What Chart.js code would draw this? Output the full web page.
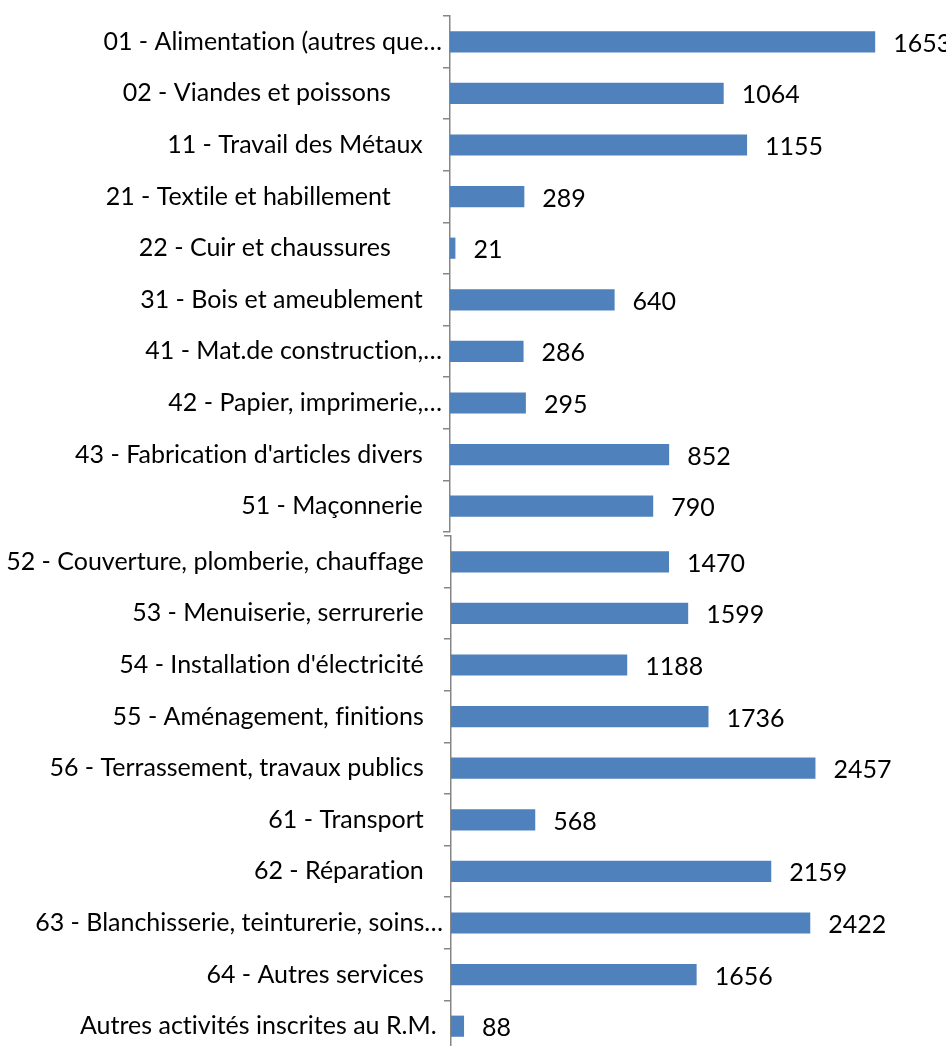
<!DOCTYPE html>
<html>
<head>
<meta charset="utf-8">
<script src="https://cdn.jsdelivr.net/npm/chart.js@4"></script>
<style>
  html, body { margin: 0; padding: 0; background: #fff; width: 946px; height: 1046px; overflow: hidden; }
  #wrap { position: relative; width: 946px; height: 1046px; overflow: hidden; }
  canvas { position: absolute; left: 0; }
  #c1 { top: 0; }
  #c2 { top: 520px; }
</style>
</head>
<body>
<div id="wrap">
  <canvas id="c1" width="946" height="548"></canvas>
  <canvas id="c2" width="946" height="548"></canvas>
</div>
<script>
const SP = "\u00a0";
const topCategories = [
  "01 - Alimentation (autres que…",
  "02 - Viandes et poissons" + SP.repeat(8),
  "11 - Travail des Métaux" + SP.repeat(3),
  "21 - Textile et habillement" + SP.repeat(8),
  "22 - Cuir et chaussures" + SP.repeat(8),
  "31 - Bois et ameublement" + SP.repeat(3),
  "41 - Mat.de construction,…",
  "42 - Papier, imprimerie,…",
  "43 - Fabrication d'articles divers" + SP.repeat(3),
  "51 - Maçonnerie" + SP.repeat(3)
];
const topValues = [1653, 1064, 1155, 289, 21, 640, 286, 295, 852, 790];

const bottomCategories = [
  "52 - Couverture, plomberie, chauffage" + SP.repeat(3),
  "53 - Menuiserie, serrurerie" + SP.repeat(3),
  "54 - Installation d'électricité" + SP.repeat(3),
  "55 - Aménagement, finitions" + SP.repeat(3),
  "56 - Terrassement, travaux publics" + SP.repeat(3),
  "61 - Transport" + SP.repeat(3),
  "62 - Réparation" + SP.repeat(3),
  "63 - Blanchisserie, teinturerie, soins…",
  "64 - Autres services" + SP.repeat(3),
  "Autres activités inscrites au R.M." + SP.repeat(1)
];
const bottomValues = [1470, 1599, 1188, 1736, 2457, 568, 2159, 2422, 1656, 88];

const FONT = { family: "Lato, 'Open Sans', sans-serif", size: 25 };
const BAR_COLOR = "#4F81BD";
const AXIS_COLOR = "#868686";

const noLigatures = {
  id: "noLigatures",
  beforeDraw(chart) {
    try { chart.ctx.textRendering = "optimizeSpeed"; } catch (e) {}
  }
};

const valueLabels = {
  id: "valueLabels",
  afterDatasetsDraw(chart) {
    const ctx = chart.ctx;
    ctx.save();
    ctx.font = FONT.size + "px " + FONT.family;
    ctx.fillStyle = "#000";
    ctx.textAlign = "left";
    ctx.textBaseline = "middle";
    chart.getDatasetMeta(0).data.forEach((bar, i) => {
      const v = chart.data.datasets[0].data[i];
      ctx.fillText(String(v), bar.x + 18, bar.y + 2);
    });
    ctx.restore();
  }
};

function makeChart(id, labels, values, xMax, axisX, pad) {
  return new Chart(document.getElementById(id), {
    type: "bar",
    data: {
      labels: labels,
      datasets: [{
        data: values,
        backgroundColor: BAR_COLOR,
        borderWidth: 0,
        categoryPercentage: 1.0,
        barPercentage: 0.41
      }]
    },
    options: {
      indexAxis: "y",
      responsive: false,
      animation: false,
      devicePixelRatio: 1,
      layout: { padding: pad },
      plugins: { legend: { display: false }, tooltip: { enabled: false } },
      scales: {
        x: {
          display: false,
          min: 0,
          max: xMax
        },
        y: {
          afterFit(scale) { scale.width = axisX; },
          border: { display: true, color: AXIS_COLOR, width: 1.5 },
          grid: {
            drawOnChartArea: false,
            drawTicks: true,
            tickLength: 7,
            color: AXIS_COLOR,
            lineWidth: 1.5,
            offset: true
          },
          ticks: {
            color: "#000",
            font: FONT,
            padding: 1,
            autoSkip: false
          }
        }
      }
    },
    plugins: [noLigatures, valueLabels]
  });
}

makeChart("c1", topCategories, topValues, 1800, 450, { top: 16, bottom: 0, left: 0, right: 33 });
makeChart("c2", bottomCategories, bottomValues, 3000, 451, { top: 0, bottom: 0, left: 0, right: 50 });
</script>
</body>
</html>
